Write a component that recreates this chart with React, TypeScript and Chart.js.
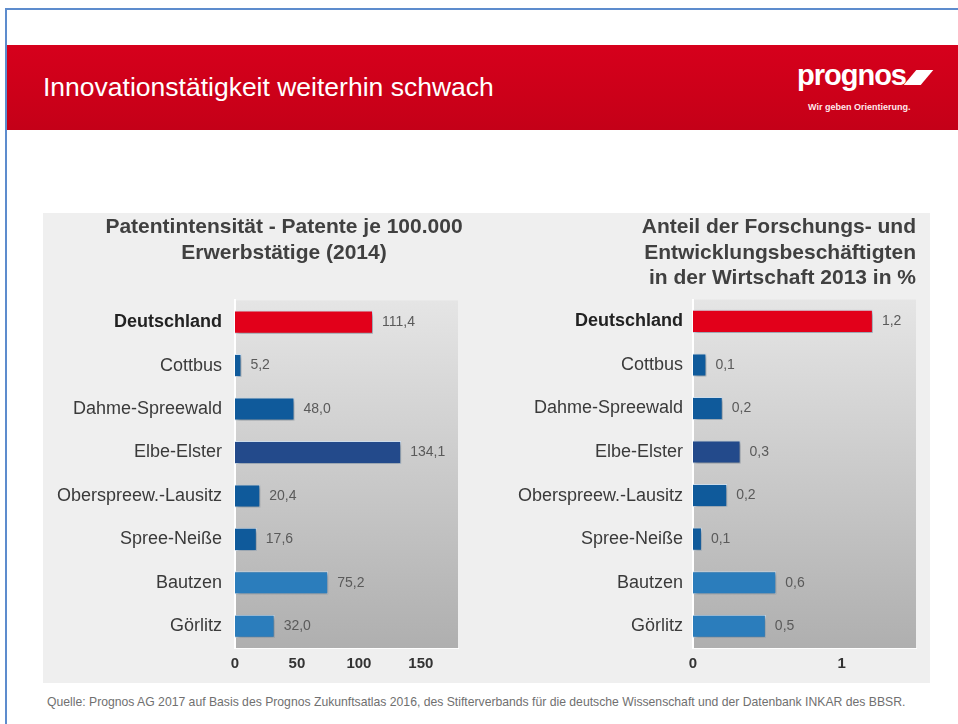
import React, { useEffect, useRef } from "react";
import { Chart, registerables } from "chart.js";

Chart.register(...registerables);

// ---------- data ----------
const categories = [
  "Deutschland",
  "Cottbus",
  "Dahme-Spreewald",
  "Elbe-Elster",
  "Oberspreew.-Lausitz",
  "Spree-Neiße",
  "Bautzen",
  "Görlitz",
];
const patentValues = [111.4, 5.2, 48.0, 134.1, 20.4, 17.6, 75.2, 32.0];
const fueValues = [1.21, 0.09, 0.2, 0.32, 0.23, 0.06, 0.56, 0.49];
const patentTicks = [0, 50, 100, 150];
const fueTicks = [0, 1];
const patentTitle = ["Patentintensität - Patente je 100.000", "Erwerbstätige (2014)"];
const fueTitle = [
  "Anteil der Forschungs- und",
  "Entwicklungsbeschäftigten",
  "in der Wirtschaft 2013 in %",
];
const headerTitle = "Innovationstätigkeit weiterhin schwach";
const sourceNote =
  "Quelle: Prognos AG 2017 auf Basis des Prognos Zukunftsatlas 2016, des Stifterverbands für die deutsche Wissenschaft und der Datenbank INKAR des BBSR.";

// ---------- styles ----------
const barColors = [
  "#e2001a",
  "#0f5a9b",
  "#0f5a9b",
  "#234a8b",
  "#0f5a9b",
  "#0f5a9b",
  "#2b7dbc",
  "#2b7dbc",
];
const FONT = "'Liberation Sans', Arial, Helvetica, sans-serif";

const fmt = (v: number) => v.toFixed(1).replace(".", ",");

const plotPlugin = {
  id: "plotDeco",
  beforeDraw(chart: any) {
    const { ctx, chartArea } = chart;
    const { left, top, right, bottom } = chartArea;
    const g = ctx.createLinearGradient(0, top, 0, bottom);
    g.addColorStop(0, "#e5e5e5");
    g.addColorStop(1, "#afafaf");
    ctx.save();
    ctx.fillStyle = g;
    ctx.fillRect(left, top, right - left, bottom - top);
    ctx.restore();
  },
  beforeDatasetsDraw(chart: any) {
    const ctx = chart.ctx;
    ctx.save();
    ctx.shadowColor = "rgba(0,0,0,0.35)";
    ctx.shadowBlur = 4;
    ctx.shadowOffsetX = 2;
    ctx.shadowOffsetY = 2;
  },
  afterDatasetsDraw(chart: any) {
    const ctx = chart.ctx;
    ctx.restore();
    const meta = chart.getDatasetMeta(0);
    const data = chart.data.datasets[0].data as number[];
    ctx.save();
    ctx.font = `14px ${FONT}`;
    ctx.fillStyle = "#5a5a5a";
    ctx.textAlign = "left";
    ctx.textBaseline = "middle";
    meta.data.forEach((bar: any, i: number) => {
      ctx.fillText(fmt(data[i]), bar.x + 9, bar.y);
    });
    ctx.restore();
  },
};

type Opts = {
  values: number[];
  ticks: number[];
  max: number;
  title: string[];
  align: "center" | "end";
  padRight: number;
  rightSpace: number;
  yWidth: number;
  yPad: number;
  titleBottom: number;
};

function makeConfig(o: Opts): any {
  const scales: any = {
    x: {
      type: "linear",
      min: 0,
      max: o.max,
      afterBuildTicks: (s: any) => {
        s.ticks = o.ticks.map((v) => ({ value: v }));
      },
      afterFit: (s: any) => {
        s.height = 35;
      },
      grid: { display: false, drawTicks: false },
      border: { display: true, color: "rgba(255,255,255,0.85)", width: 1 },
      ticks: {
        padding: 7,
        color: "#333333",
        font: { family: FONT, size: 15, weight: "bold" },
        callback: (v: any) => String(v),
      },
    },
    y: {
      type: "category",
      position: "left",
      afterFit: (s: any) => {
        s.width = o.yWidth;
      },
      grid: { display: false, drawTicks: false },
      border: { display: true, color: "#ffffff", width: 2 },
      ticks: {
        padding: o.yPad,
        color: (c: any) => (c.index === 0 ? "#222222" : "#3a3a3a"),
        font: (c: any) => ({
          family: FONT,
          size: 18,
          weight: c.index === 0 ? "bold" : "normal",
        }),
      },
    },
  };
  if (o.rightSpace > 0) {
    scales.yRight = {
      type: "category",
      position: "right",
      display: true,
      afterFit: (s: any) => {
        s.width = o.rightSpace;
      },
      grid: { display: false, drawTicks: false },
      border: { display: false },
      ticks: { display: false },
    };
  }
  return {
    type: "bar",
    data: {
      labels: categories,
      datasets: [
        {
          data: o.values,
          backgroundColor: barColors,
          borderColor: "rgba(215,232,248,0.9)",
          borderWidth: 1,
          barPercentage: 0.53,
          categoryPercentage: 1,
          xAxisID: "x",
          yAxisID: "y",
        },
      ],
    },
    plugins: [plotPlugin],
    options: {
      indexAxis: "y",
      animation: false,
      responsive: false,
      layout: { padding: { left: 0, right: o.padRight, top: 0, bottom: 0 } },
      plugins: {
        legend: { display: false },
        tooltip: { enabled: false },
        title: {
          display: true,
          text: o.title,
          align: o.align,
          color: "#404040",
          font: { family: FONT, size: 21, weight: "bold", lineHeight: 1.2 },
          padding: { top: 2, bottom: o.titleBottom },
        },
      },
      scales,
    },
  };
}

function BarChart(props: Opts & { left: number; top: number; width: number; height: number }) {
  const ref = useRef<HTMLCanvasElement | null>(null);
  useEffect(() => {
    if (!ref.current) return;
    const chart = new Chart(ref.current, makeConfig(props));
    return () => chart.destroy();
  }, []);
  return (
    <canvas
      ref={ref}
      width={props.width}
      height={props.height}
      style={{
        position: "absolute",
        left: props.left,
        top: props.top,
        width: props.width,
        height: props.height,
      }}
    />
  );
}

export default function App() {
  return (
    <div
      style={{
        position: "fixed",
        left: 0,
        top: 0,
        width: 958,
        height: 724,
        background: "#ffffff",
        overflow: "hidden",
        fontFamily: FONT,
      }}
    >
      {/* slide frame */}
      <div
        style={{
          position: "absolute",
          left: 5,
          top: 8,
          width: 1000,
          height: 1000,
          border: "2px solid #5d8ccd",
          boxSizing: "border-box",
        }}
      />
      {/* red header band */}
      <div
        style={{
          position: "absolute",
          left: 7,
          top: 45,
          width: 951,
          height: 85,
          background: "linear-gradient(to bottom, #d6001c 0%, #cc0019 60%, #c40018 100%)",
        }}
      />
      <div
        style={{
          position: "absolute",
          left: 43,
          top: 72,
          fontSize: 26.5,
          lineHeight: "30px",
          color: "#ffffff",
          whiteSpace: "nowrap",
        }}
      >
        {headerTitle}
      </div>
      {/* logo */}
      <div
        style={{
          position: "absolute",
          left: 797,
          top: 61,
          fontSize: 29,
          lineHeight: "29px",
          fontWeight: "bold",
          color: "#ffffff",
          letterSpacing: -1,
          whiteSpace: "nowrap",
        }}
      >
        prognos
      </div>
      <div
        style={{
          position: "absolute",
          left: 910,
          top: 70,
          width: 17,
          height: 15,
          background: "#ffffff",
          transform: "skewX(-40deg)",
        }}
      />
      <div
        style={{
          position: "absolute",
          left: 808,
          top: 102,
          fontSize: 9,
          fontWeight: "bold",
          lineHeight: "11px",
          color: "#ffe9ec",
          whiteSpace: "nowrap",
        }}
      >
        Wir geben Orientierung.
      </div>
      {/* chart panel */}
      <div
        style={{
          position: "absolute",
          left: 43,
          top: 213,
          width: 887,
          height: 470,
          background: "#efefef",
        }}
      />
      <BarChart
        left={40}
        top={213}
        width={488}
        height={470}
        values={patentValues}
        ticks={patentTicks}
        max={180}
        title={patentTitle}
        align="center"
        padRight={0}
        rightSpace={70}
        yWidth={195}
        yPad={13}
        titleBottom={35}
      />
      <BarChart
        left={498}
        top={213}
        width={432}
        height={470}
        values={fueValues}
        ticks={fueTicks}
        max={1.5}
        title={fueTitle}
        align="end"
        padRight={14}
        rightSpace={0}
        yWidth={195}
        yPad={10}
        titleBottom={9}
      />
      <div
        style={{
          position: "absolute",
          left: 47,
          top: 695,
          fontSize: 12.2,
          lineHeight: "14px",
          color: "#707070",
          whiteSpace: "nowrap",
        }}
      >
        {sourceNote}
      </div>
    </div>
  );
}
